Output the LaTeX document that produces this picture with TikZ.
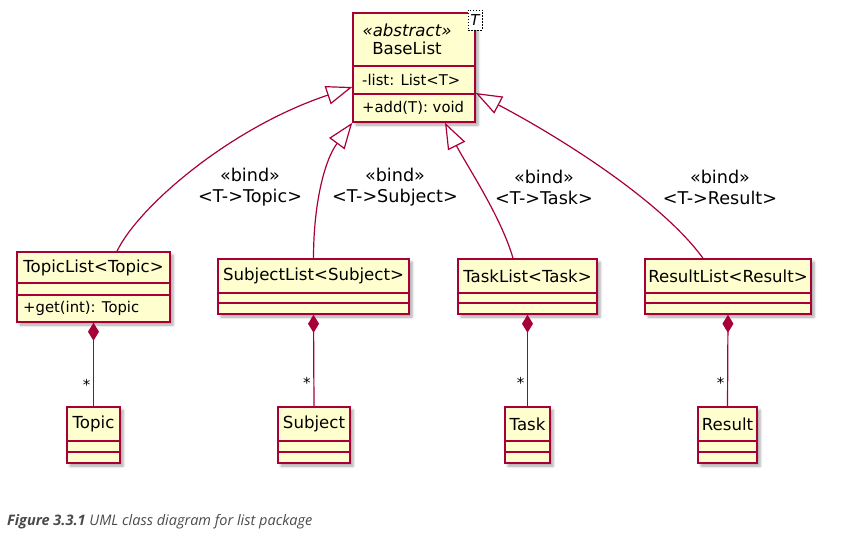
\documentclass[tikz,border=0pt]{standalone}
\usepackage{fontspec}
\setmainfont{DejaVu Sans}
\newfontfamily\capfont{Open Sans}
\usetikzlibrary{arrows.meta,shadows.blur}
\definecolor{umlborder}{HTML}{A80036}
\definecolor{umlfill}{HTML}{FEFECE}
\definecolor{capgray}{HTML}{4A4A4A}

\tikzset{
  classbox/.style={draw=umlborder, fill=umlfill, line width=1.5pt, inner sep=0pt,
    blur shadow={shadow xshift=3pt, shadow yshift=-3pt, shadow blur radius=2.5pt, shadow opacity=35}},
  divider/.style={draw=umlborder, line width=1.5pt},
  cname/.style={font=\fontsize{16.6}{20}\selectfont, inner sep=0pt, anchor=center},
  member/.style={font=\fontsize{14.8}{18}\selectfont, inner sep=0pt, anchor=west},
  bindlabel/.style={font=\fontsize{17.6}{21}\selectfont, align=center, inner sep=0pt},
  extends/.style={draw=umlborder, line width=1.2pt,
    -{Triangle[open, length=26pt, width=19pt, fill=white]}},
  composes/.style={draw=umlborder, line width=1.2pt,
    {Diamond[length=18pt, width=11pt, fill=umlborder]}-},
  mult/.style={font=\fontsize{15}{18}\selectfont, inner sep=0pt},
  tparam/.style={draw=black, dash pattern=on 1.5pt off 1.5pt, fill=white, line width=0.8pt,
    minimum width=14pt, minimum height=20pt, inner sep=0pt,
    font=\fontsize{15}{18}\selectfont\itshape},
}

\begin{document}
\begin{tikzpicture}[x=1pt, y=-1pt]
  \useasboundingbox (0,0) rectangle (850,535);

  % ---- class boxes ----
  \node[classbox, minimum width=122pt, minimum height=109pt] (base) at (414,67.5) {};
  \node[classbox, minimum width=153pt, minimum height=70pt] (topiclist) at (93.5,287) {};
  \node[classbox, minimum width=191pt, minimum height=55pt] (subjectlist) at (313.5,286.5) {};
  \node[classbox, minimum width=139pt, minimum height=55pt] (tasklist) at (527.5,286.5) {};
  \node[classbox, minimum width=166pt, minimum height=55pt] (resultlist) at (728,286.5) {};
  \node[classbox, minimum width=53pt, minimum height=56pt] (topic) at (93.5,435) {};
  \node[classbox, minimum width=72pt, minimum height=56pt] (subject) at (314,435) {};
  \node[classbox, minimum width=45pt, minimum height=56pt] (task) at (527.5,435) {};
  \node[classbox, minimum width=59pt, minimum height=56pt] (result) at (727.5,435) {};

  % ---- compartment lines ----
  \foreach \n/\a/\b in {base/66/94, topiclist/283/295, subjectlist/293/303,
                        tasklist/293/303, resultlist/293/303,
                        topic/441/452, subject/441/452, task/441/452, result/441/452} {
    \draw[divider] (\n.west |- 0,\a) -- (\n.east |- 0,\a);
    \draw[divider] (\n.west |- 0,\b) -- (\n.east |- 0,\b);
  }

  % ---- BaseList ----
  \node[tparam] (tbox) at (475,20) {T};
  \node[cname, font=\fontsize{16.6}{20}\selectfont\itshape] (basest) at (407,30) {«abstract»};
  \node[cname] (basename) at (407,48) {BaseList};
  \node[member] (baseattr) at (362,80) {-list: List<T>};
  \node[member] (baseop) at (362,108) {+add(T): void};

  % ---- list classes ----
  \node[cname] (topiclistname) at (93.5,268) {TopicList<Topic>};
  \node[member] (topiclistop) at (23,308.5) {+get(int): Topic};
  \node[cname] (subjectlistname) at (313.5,276) {SubjectList<Subject>};
  \node[cname] (tasklistname) at (527.5,276) {TaskList<Task>};
  \node[cname] (resultlistname) at (728,276) {ResultList<Result>};

  % ---- element classes ----
  \node[cname] (topicname) at (93.5,424) {Topic};
  \node[cname] (subjectname) at (314,424) {Subject};
  \node[cname] (taskname) at (527.5,424) {Task};
  \node[cname] (resultname) at (727.5,424) {Result};

  % ---- bindings to BaseList ----
  \draw[extends] ([xshift=23.5pt]topiclist.north)
    .. controls +(21,-44) and +(-123,41) .. ([yshift=-19.5pt]base.west);
  \draw[extends] (subjectlist.north)
    .. controls +(0,-54) and +(-28,38) .. (base.south west);
  \draw[extends] ([xshift=-14.5pt]tasklist.north)
    .. controls +(-12,-42) and +(20,40) .. ([xshift=31pt]base.south);
  \draw[extends] ([xshift=-25pt]resultlist.north)
    .. controls +(-43,-59) and +(80,42) .. ([yshift=-25.5pt]base.east);

  \node[bindlabel] (bindtopic) at (250,187.5) {«bind»\\<T->Topic>};
  \node[bindlabel] (bindsubject) at (395,187.5) {«bind»\\<T->Subject>};
  \node[bindlabel] (bindtask) at (544,187.5) {«bind»\\<T->Task>};
  \node[bindlabel] (bindresult) at (720,187.5) {«bind»\\<T->Result>};

  % ---- compositions ----
  \draw[composes] (topiclist.south) -- node[mult, pos=0.75, xshift=-7pt] {*} (topic.north);
  \draw[composes] (subjectlist.south) -- node[mult, pos=0.75, xshift=-7pt] {*} (subject.north);
  \draw[composes] (tasklist.south) -- node[mult, pos=0.75, xshift=-7pt] {*} (task.north);
  \draw[composes] (resultlist.south) -- node[mult, pos=0.75, xshift=-7pt] {*} (result.north);

  % ---- caption ----
  \node[anchor=base west, inner sep=0pt, text=capgray,
        font=\capfont\fontsize{14.5}{17}\selectfont\itshape] (caption) at (7,525)
        {\bfseries Figure 3.3.1\mdseries{} UML class diagram for list package};
\end{tikzpicture}
\end{document}
